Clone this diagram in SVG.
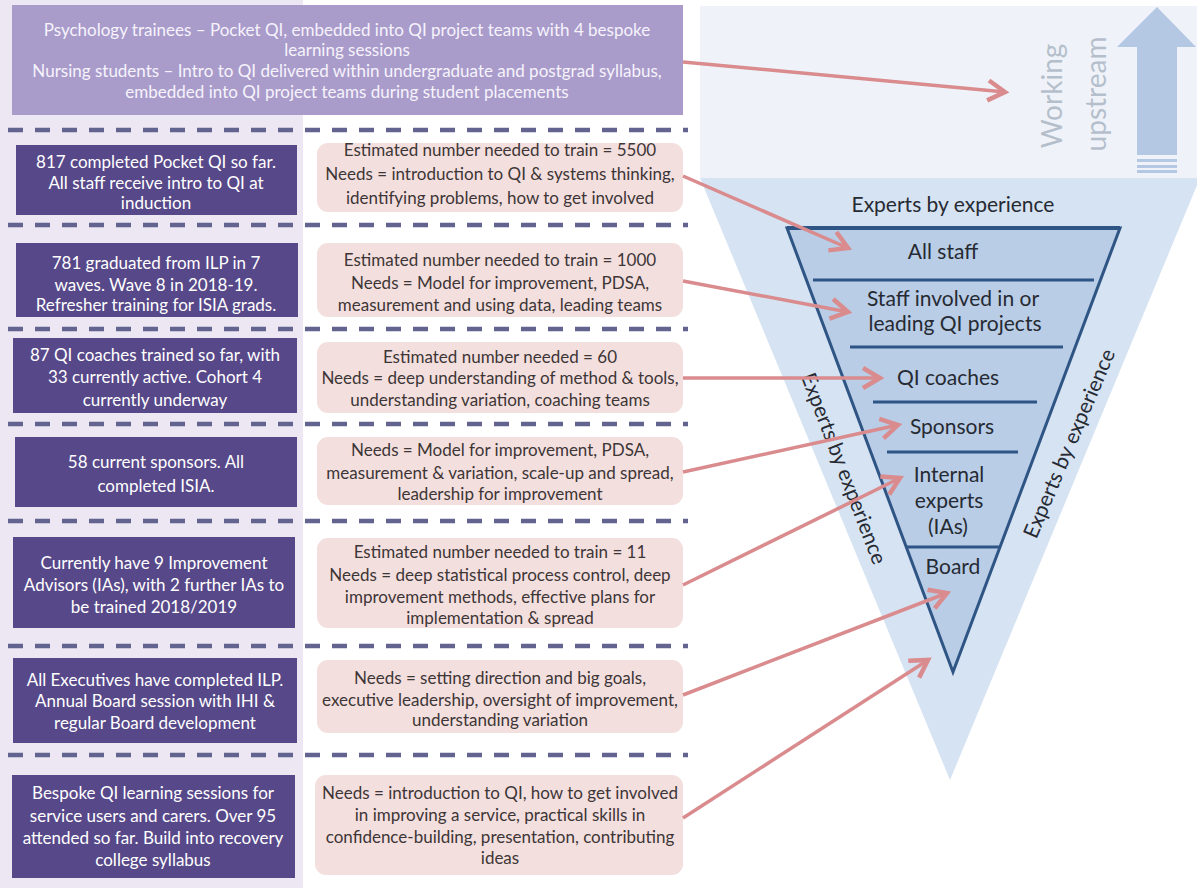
<svg xmlns="http://www.w3.org/2000/svg" width="1197" height="888" viewBox="0 0 1197 888">
<defs>
<style>
text{font-family:Lato,"Open Sans","Liberation Sans",sans-serif;}
.ban{fill:#f6f3fb;font-size:17px;text-anchor:middle;}
.lb{fill:#574889;}
.lbt{fill:#ffffff;font-size:17px;text-anchor:middle;}
.mb{fill:#f4dfdf;}
.mbt{fill:#3d3636;font-size:17px;text-anchor:middle;}
.dash{stroke:#62648f;stroke-width:4.5;stroke-dasharray:15 12;fill:none;}
.tl{fill:#262a33;font-size:21px;text-anchor:middle;}
.ee{fill:#262a33;font-size:21px;text-anchor:middle;dominant-baseline:central;}
.wu{fill:#b5bfcc;font-size:28px;text-anchor:middle;dominant-baseline:central;}
.div{stroke:#2f5585;stroke-width:3;}
.arr{stroke:#d98b8e;stroke-width:3.5;fill:none;marker-end:url(#ah);}
</style>
<marker id="ah" markerUnits="userSpaceOnUse" markerWidth="26" markerHeight="26" refX="20" refY="12" orient="auto">
<path d="M3,2 L20,12 L3,22" fill="none" stroke="#d98b8e" stroke-width="4.5"/>
</marker>
</defs>
<rect x="0" y="0" width="1197" height="888" fill="#ffffff"/>
<rect x="0" y="0" width="303" height="888" fill="#ece7f3"/>
<rect x="700" y="6" width="497" height="172" fill="#eff3f9"/>
<polygon points="700,178 1200,178 950,780" fill="#d6e3f2"/>

<g id="upstream">
<polygon points="1157,7 1196,47 1177,47 1177,155 1137,155 1137,47 1117,47" fill="#b4c8e3"/>
<rect x="1137" y="159" width="40" height="3" fill="#b4c8e3"/>
<rect x="1137" y="165" width="40" height="3" fill="#b4c8e3"/>
<rect x="1137" y="170" width="40" height="3" fill="#b4c8e3"/>
<text class="wu" transform="translate(1051,96) rotate(-90)">Working</text>
<text class="wu" transform="translate(1095,94) rotate(-90)">upstream</text>
</g>

<g id="banner">
<rect x="12" y="5" width="671" height="110" fill="#a99ccb"/>
<text class="ban" x="347" y="36">Psychology trainees – Pocket QI, embedded into QI project teams with 4 bespoke</text>
<text class="ban" x="347" y="56">learning sessions</text>
<text class="ban" x="347" y="77">Nursing students – Intro to QI delivered within undergraduate and postgrad syllabus,</text>
<text class="ban" x="347" y="98">embedded into QI project teams during student placements</text>
</g>

<g id="separators">
<line class="dash" x1="8" y1="130" x2="688" y2="130"/>
<line class="dash" x1="8" y1="225" x2="688" y2="225"/>
<line class="dash" x1="8" y1="329" x2="688" y2="329"/>
<line class="dash" x1="8" y1="424" x2="688" y2="424"/>
<line class="dash" x1="8" y1="521" x2="688" y2="521"/>
<line class="dash" x1="8" y1="646" x2="688" y2="646"/>
<line class="dash" x1="8" y1="755" x2="688" y2="755"/>
</g>

<g id="lb1"><rect class="lb" x="16" y="145" width="281" height="70"/>
<text class="lbt" x="156" y="168">817 completed Pocket QI so far.</text>
<text class="lbt" x="156" y="189">All staff receive intro to QI at</text>
<text class="lbt" x="156" y="209">induction</text></g>
<g id="lb2"><rect class="lb" x="16" y="243" width="282" height="74"/>
<text class="lbt" x="156" y="269">781 graduated from ILP in 7</text>
<text class="lbt" x="156" y="291">waves. Wave 8 in 2018-19.</text>
<text class="lbt" x="156" y="311">Refresher training for ISIA grads.</text></g>
<g id="lb3"><rect class="lb" x="13" y="338" width="284" height="75"/>
<text class="lbt" x="155" y="361">87 QI coaches trained so far, with</text>
<text class="lbt" x="155" y="383">33 currently active. Cohort 4</text>
<text class="lbt" x="155" y="406">currently underway</text></g>
<g id="lb4"><rect class="lb" x="15" y="437" width="282" height="70"/>
<text class="lbt" x="156" y="468">58 current sponsors. All</text>
<text class="lbt" x="156" y="492">completed ISIA.</text></g>
<g id="lb5"><rect class="lb" x="13" y="537" width="282" height="91"/>
<text class="lbt" x="154" y="569">Currently have 9 Improvement</text>
<text class="lbt" x="154" y="591">Advisors (IAs), with 2 further IAs to</text>
<text class="lbt" x="154" y="613">be trained 2018/2019</text></g>
<g id="lb6"><rect class="lb" x="13" y="658" width="284" height="85"/>
<text class="lbt" x="155" y="686">All Executives have completed ILP.</text>
<text class="lbt" x="155" y="707">Annual Board session with IHI &amp;</text>
<text class="lbt" x="155" y="729">regular Board development</text></g>
<g id="lb7"><rect class="lb" x="12" y="775" width="283" height="103"/>
<text class="lbt" x="153" y="799">Bespoke QI learning sessions for</text>
<text class="lbt" x="153" y="822">service users and carers. Over 95</text>
<text class="lbt" x="153" y="844">attended so far. Build into recovery</text>
<text class="lbt" x="153" y="866">college syllabus</text></g>

<g id="mb1"><rect class="mb" x="317" y="143" width="366" height="69" rx="11"/>
<text class="mbt" x="500" y="156">Estimated number needed to train = 5500</text>
<text class="mbt" x="500" y="180">Needs = introduction to QI &amp; systems thinking,</text>
<text class="mbt" x="500" y="204">identifying problems, how to get involved</text></g>
<g id="mb2"><rect class="mb" x="317" y="243" width="366" height="74" rx="11"/>
<text class="mbt" x="500" y="266">Estimated number needed to train = 1000</text>
<text class="mbt" x="500" y="289">Needs = Model for improvement, PDSA,</text>
<text class="mbt" x="500" y="311">measurement and using data, leading teams</text></g>
<g id="mb3"><rect class="mb" x="317" y="342" width="366" height="71" rx="11"/>
<text class="mbt" x="500" y="363">Estimated number needed = 60</text>
<text class="mbt" x="500" y="384">Needs = deep understanding of method &amp; tools,</text>
<text class="mbt" x="500" y="406">understanding variation, coaching teams</text></g>
<g id="mb4"><rect class="mb" x="317" y="437" width="366" height="68" rx="11"/>
<text class="mbt" x="500" y="456">Needs = Model for improvement, PDSA,</text>
<text class="mbt" x="500" y="479">measurement &amp; variation, scale-up and spread,</text>
<text class="mbt" x="500" y="500">leadership for improvement</text></g>
<g id="mb5"><rect class="mb" x="317" y="538" width="366" height="90" rx="11"/>
<text class="mbt" x="500" y="558">Estimated number needed to train = 11</text>
<text class="mbt" x="500" y="581">Needs = deep statistical process control, deep</text>
<text class="mbt" x="500" y="603">improvement methods, effective plans for</text>
<text class="mbt" x="500" y="624">implementation &amp; spread</text></g>
<g id="mb6"><rect class="mb" x="317" y="660" width="366" height="73" rx="11"/>
<text class="mbt" x="500" y="684">Needs = setting direction and big goals,</text>
<text class="mbt" x="500" y="706">executive leadership, oversight of improvement,</text>
<text class="mbt" x="500" y="726">understanding variation</text></g>
<g id="mb7"><rect class="mb" x="315" y="775" width="368" height="100" rx="11"/>
<text class="mbt" x="500" y="799">Needs = introduction to QI, how to get involved</text>
<text class="mbt" x="500" y="821">in improving a service, practical skills in</text>
<text class="mbt" x="500" y="843">confidence-building, presentation, contributing</text>
<text class="mbt" x="500" y="864">ideas</text></g>

<g id="outer-labels">
<text class="tl" x="953" y="212">Experts by experience</text>
<text class="ee" transform="translate(845,468) rotate(69)">Experts by experience</text>
<text class="ee" transform="translate(1068,443) rotate(-67)">Experts by experience</text>
</g>

<g id="pyramid">
<polygon points="787,228 1120,228 953,672" fill="#b9cde6" stroke="#2f5585" stroke-width="3" stroke-linejoin="miter"/>
<line x1="787" y1="228" x2="1120" y2="228" stroke="#2f5585" stroke-width="4"/>
<line class="div" x1="813" y1="280" x2="1094" y2="280"/>
<line class="div" x1="850" y1="347" x2="1063" y2="347"/>
<line class="div" x1="873" y1="402" x2="1037" y2="402"/>
<line class="div" x1="887" y1="452" x2="1018" y2="452"/>
<line class="div" x1="906" y1="547" x2="1000" y2="547"/>
</g>
<g id="n-allstaff"><text class="tl" x="943" y="259">All staff</text></g>
<g id="n-staffinvolved"><text class="tl" x="953" y="306">Staff involved in or</text>
<text class="tl" x="955" y="331">leading QI projects</text></g>
<g id="n-coaches"><text class="tl" x="948" y="385">QI coaches</text></g>
<g id="n-sponsors"><text class="tl" x="952" y="434">Sponsors</text></g>
<g id="n-internal"><text class="tl" x="949" y="482">Internal</text>
<text class="tl" x="949" y="508">experts</text>
<text class="tl" x="948" y="534">(IAs)</text></g>
<g id="n-board"><text class="tl" x="953" y="574">Board</text></g>

<g id="connectors">
<line class="arr" x1="683" y1="62" x2="1005" y2="92"/>
<line class="arr" x1="683" y1="176" x2="848" y2="248"/>
<line class="arr" x1="683" y1="281" x2="848" y2="312"/>
<line class="arr" x1="683" y1="378" x2="880" y2="378"/>
<line class="arr" x1="683" y1="472" x2="898" y2="425"/>
<line class="arr" x1="683" y1="585" x2="900" y2="478"/>
<line class="arr" x1="683" y1="695" x2="947" y2="593"/>
<line class="arr" x1="683" y1="818" x2="928" y2="660"/>
</g>
</svg>
